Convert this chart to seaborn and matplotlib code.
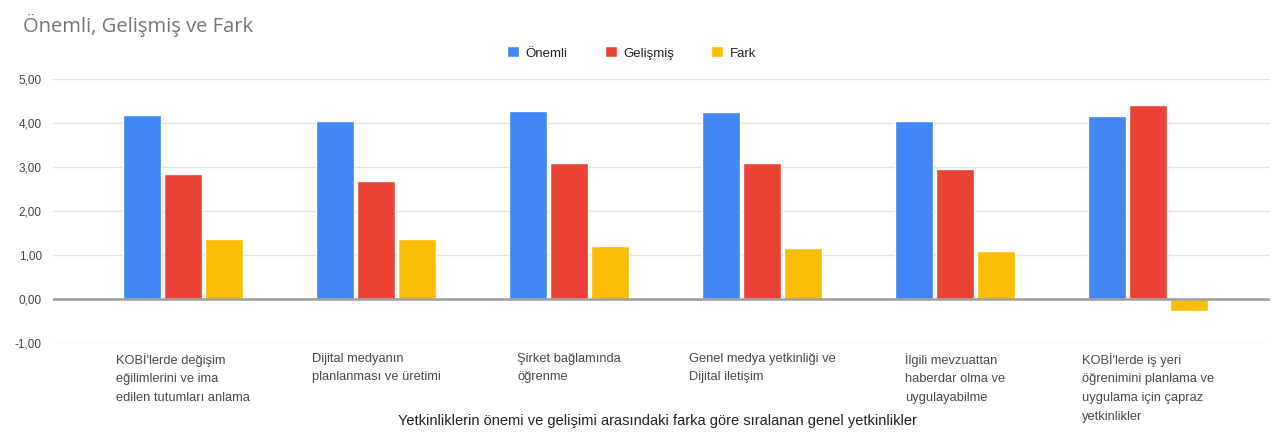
import matplotlib
matplotlib.use("Agg")
import matplotlib.pyplot as plt
import seaborn as sns
import pandas as pd
from matplotlib.ticker import FuncFormatter, MultipleLocator

# Competencies, ordered by the gap between importance and development
categories = [
    "KOBİ'lerde değişim\neğilimlerini ve ima\nedilen tutumları anlama",
    "Dijital medyanın\nplanlanması ve üretimi",
    "Şirket bağlamında\nöğrenme",
    "Genel medya yetkinliği ve\nDijital iletişim",
    "İlgili mevzuattan\nhaberdar olma ve\nuygulayabilme",
    "KOBİ'lerde iş yeri\nöğrenimini planlama ve\nuygulama için çapraz\nyetkinlikler",
]
series_names = ["Önemli", "Gelişmiş", "Fark"]
onemli = [4.19, 4.05, 4.28, 4.24, 4.04, 4.15]
gelismis = [2.83, 2.69, 3.08, 3.09, 2.95, 4.42]
fark = [1.36, 1.36, 1.20, 1.15, 1.09, -0.27]
colors = ["#4285F4", "#EA4335", "#FBBC04"]

rows = []
for name, vals in zip(series_names, [onemli, gelismis, fark]):
    for cat, v in zip(categories, vals):
        rows.append({"Yetkinlik": cat, "Seri": name, "Değer": v})
df = pd.DataFrame(rows)

sns.set_theme(style="white")
plt.rcParams["font.family"] = ["Liberation Sans", "DejaVu Sans"]

fig = plt.figure(figsize=(12.76, 4.34), dpi=100)
ax = fig.add_axes([53 / 1276, 1 - 343 / 434, (1270 - 53) / 1276, (343 - 79) / 434])

sns.barplot(
    data=df, x="Yetkinlik", y="Değer", hue="Seri",
    order=categories, hue_order=series_names, palette=colors,
    width=0.64, gap=0.07, saturation=1, ax=ax, legend=True,
)

ax.set_ylim(-1, 5)
ax.set_xlim(-0.674, 5.632)
ax.yaxis.set_major_locator(MultipleLocator(1))
ax.yaxis.set_major_formatter(FuncFormatter(lambda v, _: f"{v:.2f}".replace(".", ",")))
ax.grid(axis="y", color="#e3e3e3", linewidth=1)
ax.set_axisbelow(True)
ax.axhline(0, color="#9e9e9e", linewidth=1.8, zorder=1)
for s in ax.spines.values():
    s.set_visible(False)

ax.tick_params(axis="y", length=0, pad=8, labelsize=8.5, labelcolor="#444444")
ax.tick_params(axis="x", length=0, pad=7, labelsize=9.3, labelcolor="#4a4a4a")
for lab in ax.get_xticklabels():
    lab.set_multialignment("left")
    lab.set_linespacing(1.75)

ax.set_ylabel("")
ax.set_xlabel(
    "Yetkinliklerin önemi ve gelişimi arasındaki farka göre sıralanan genel yetkinlikler",
    fontsize=10.5, color="#222222", va="center",
)
ax.xaxis.set_label_coords((657 - 53) / (1270 - 53), -(421 - 343) / (343 - 79))

handles, labels = ax.get_legend_handles_labels()
ax.get_legend().remove()
fig.legend(
    handles, labels, loc="center", bbox_to_anchor=(0.495, 1 - 53 / 434),
    ncol=3, frameon=False, fontsize=9.5, handlelength=0.9, handleheight=0.9,
    handletextpad=0.5, columnspacing=2.8, labelcolor="#222222",
)

fig.text(23 / 1276, 1 - 25 / 434, "Önemli, Gelişmiş ve Fark", fontsize=14.5,
         color="#757575", va="center", ha="left", family=["Open Sans", "DejaVu Sans"])

fig.savefig("out.png", dpi=100, facecolor="white")
